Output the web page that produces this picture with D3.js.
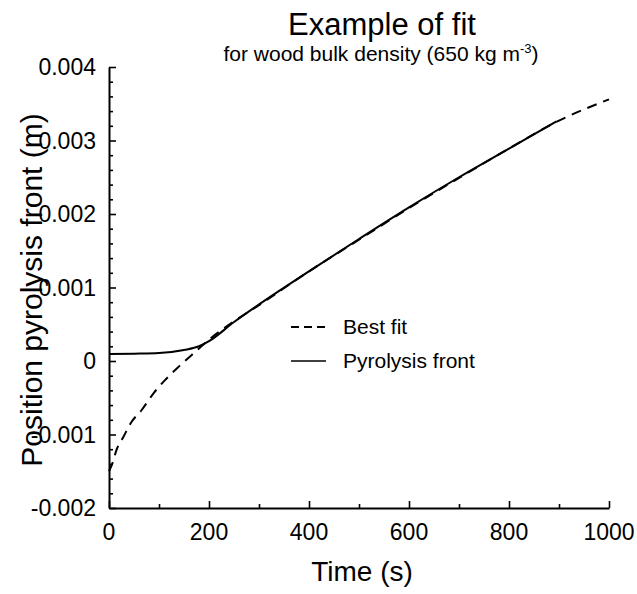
<!DOCTYPE html>
<html>
<head>
<meta charset="utf-8">
<script src="https://cdn.jsdelivr.net/npm/d3@7"></script>
<style>
  html, body { margin: 0; padding: 0; background: #fff; }
  svg { display: block; }
  text { font-family: "Liberation Sans", Arial, Helvetica, sans-serif; fill: #000; }
</style>
</head>
<body>
<svg id="chart" width="637" height="594"></svg>
<script>
// Pyrolysis front position measured over time (s, m)
const frontTime = [0, 50, 100, 150, 180, 200, 250, 300, 400, 500, 600, 700, 800, 895];
const frontPos  = [0.000095, 0.0001, 0.000108, 0.00015, 0.0002, 0.00027, 0.00053, 0.00077, 0.00122, 0.00166, 0.00209, 0.0025, 0.00289, 0.00326];

// Best-fit curve (s, m)
const fitTime = [0, 7, 15, 29, 45, 65, 89, 112, 139, 175, 200, 250, 300, 400, 500, 600, 700, 800, 900, 1000];
const fitPos  = [-0.0015, -0.00139, -0.00121, -0.00103, -0.00083, -0.00067, -0.00044, -0.00026, -0.00008, 0.00014, 0.00029, 0.00054, 0.00076, 0.00122, 0.00165, 0.00208, 0.00249, 0.00289, 0.00327, 0.00356];

const xTicks = [0, 200, 400, 600, 800, 1000];
const yTicks = [-0.002, -0.001, 0, 0.001, 0.002, 0.003, 0.004];
const yTickLabels = ["-0.002", "-0.001", "0", "0.001", "0.002", "0.003", "0.004"];

const legendLabels = ["Best fit", "Pyrolysis front"];

const svg = d3.select("#chart");
const plotL = 109, plotR = 609, plotT = 67, plotB = 508;

const x = d3.scaleLinear().domain([0, 1000]).range([plotL, plotR]);
const y = d3.scaleLinear().domain([-0.002, 0.004]).range([plotB, plotT]);

// Axes: ticks point inward
const minorX = d3.range(100, 1000, 200);
const minorY = d3.range(-10, 21).map(k => k * 0.0002).filter((v, i) => (i % 5) !== 0);

const xAxis = d3.axisBottom(x).tickValues(xTicks).tickSize(-7).tickSizeOuter(0).tickFormat("");
const xMinor = d3.axisBottom(x).tickValues(minorX).tickSize(-4).tickFormat("");
const yAxis = d3.axisLeft(y).tickValues(yTicks).tickSize(-7).tickSizeOuter(0).tickFormat("");
const yMinor = d3.axisLeft(y).tickValues(minorY).tickSize(-4).tickFormat("");

function styleAxis(g) {
  g.select(".domain").attr("stroke", "#000").attr("stroke-width", 2);
  g.selectAll(".tick line").attr("stroke", "#000").attr("stroke-width", 1.6);
}

svg.append("g").attr("transform", `translate(0,${plotB})`).call(xMinor).call(styleAxis).select(".domain").remove();
svg.append("g").attr("transform", `translate(${plotL},0)`).call(yMinor).call(styleAxis).select(".domain").remove();
svg.append("g").attr("transform", `translate(0,${plotB})`).call(xAxis).call(styleAxis);
svg.append("g").attr("transform", `translate(${plotL},0)`).call(yAxis).call(styleAxis);

// Tick labels
svg.append("g").selectAll("text").data(xTicks).join("text")
  .attr("x", d => x(d)).attr("y", 540)
  .attr("text-anchor", "middle").attr("font-size", 23)
  .text(d => d);

svg.append("g").selectAll("text").data(yTicks).join("text")
  .attr("x", 96).attr("y", d => y(d)).attr("dy", "0.35em")
  .attr("text-anchor", "end").attr("font-size", 23)
  .text((d, i) => yTickLabels[i]);

// Curves
const line = d3.line().x(d => x(d[0])).y(d => y(d[1])).curve(d3.curveMonotoneX);

svg.append("path")
  .datum(d3.zip(fitTime, fitPos))
  .attr("d", line).attr("fill", "none")
  .attr("stroke", "#000").attr("stroke-width", 2)
  .attr("stroke-dasharray", "10,7");

svg.append("path")
  .datum(d3.zip(frontTime, frontPos))
  .attr("d", line).attr("fill", "none")
  .attr("stroke", "#000").attr("stroke-width", 2);

// Legend
const legend = svg.append("g");
const legendY = [327, 361];
legend.append("line").attr("x1", 291).attr("x2", 326).attr("y1", legendY[0]).attr("y2", legendY[0])
  .attr("stroke", "#000").attr("stroke-width", 2).attr("stroke-dasharray", "8,5");
legend.append("line").attr("x1", 291).attr("x2", 326).attr("y1", legendY[1]).attr("y2", legendY[1])
  .attr("stroke", "#000").attr("stroke-width", 1.6);
legend.selectAll("text").data(legendLabels).join("text")
  .attr("x", 343).attr("y", (d, i) => legendY[i]).attr("dy", "0.35em")
  .attr("font-size", 21).text(d => d);

// Titles
svg.append("text").attr("x", 382).attr("y", 35).attr("text-anchor", "middle")
  .attr("font-size", 31).text("Example of fit");

const sub = svg.append("text").attr("x", 381).attr("y", 61).attr("text-anchor", "middle")
  .attr("font-size", 21);
sub.append("tspan").text("for wood bulk density (650 kg m");
sub.append("tspan").attr("font-size", 13).attr("dy", -8).text("-3");
sub.append("tspan").attr("dy", 8).text(")");

svg.append("text").attr("x", 362).attr("y", 581).attr("text-anchor", "middle")
  .attr("font-size", 28).text("Time (s)");

svg.append("text")
  .attr("transform", "translate(42,290) rotate(-90)")
  .attr("text-anchor", "middle").attr("font-size", 30)
  .text("Position pyrolysis front (m)");
</script>
</body>
</html>
